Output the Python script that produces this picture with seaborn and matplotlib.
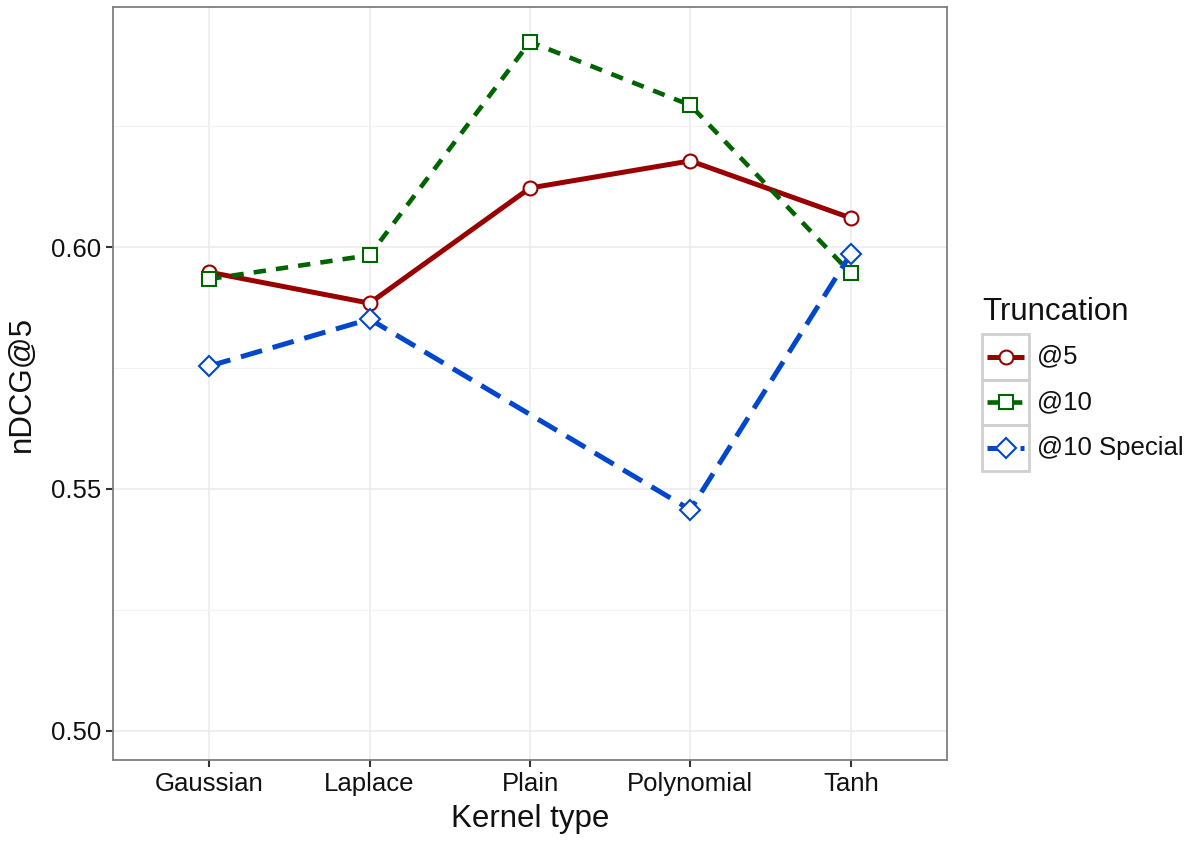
import matplotlib
matplotlib.use("Agg")
import matplotlib.pyplot as plt
import seaborn as sns
import pandas as pd
from matplotlib.patches import Rectangle
from matplotlib.lines import Line2D

kernels = ["Gaussian", "Laplace", "Plain", "Polynomial", "Tanh"]
series_names = ["@5", "@10", "@10 Special"]
vals_at5 = [0.5948, 0.5884, 0.6122, 0.6178, 0.6060]
vals_at10 = [0.5934, 0.5983, 0.6424, 0.6293, 0.5946]
vals_special = [0.5754, 0.5851, None, 0.5457, 0.5986]  # no value for Plain
y_ticks = [0.50, 0.55, 0.60]
y_minor = [0.525, 0.575, 0.625]

colors = {"@5": "#990000", "@10": "#006400", "@10 Special": "#0047CC"}
markers = {"@5": "o", "@10": "s", "@10 Special": "D"}
dashes = {"@5": "", "@10": (2.7, 2.2), "@10 Special": (4.4, 2.2)}
widths = {"@5": 3.6, "@10": 3.3, "@10 Special": 3.6}
msizes = {"@5": 10, "@10": 9.5, "@10 Special": 10.5}

rows = []
for name, vals in zip(series_names, [vals_at5, vals_at10, vals_special]):
    for k, v in zip(kernels, vals):
        if v is not None:
            rows.append({"Kernel type": k, "nDCG@5": v, "Truncation": name})
df = pd.DataFrame(rows)

sns.set_style("white")
plt.rcParams["font.family"] = ["Liberation Sans", "DejaVu Sans"]

W, H = 1191, 841
fig = plt.figure(figsize=(W / 100, H / 100), dpi=100)
ax = fig.add_axes([113 / W, 1 - 760 / H, (947 - 113) / W, (760 - 7) / H])

sns.lineplot(data=df, x="Kernel type", y="nDCG@5", hue="Truncation", style="Truncation",
             hue_order=series_names, style_order=series_names, palette=colors,
             markers=markers, dashes=dashes, sort=False, ax=ax, legend=False, zorder=3)

for line, name in zip(ax.lines, series_names):
    c = colors[name]
    line.set_linewidth(widths[name])
    line.set_markerfacecolor("white")
    line.set_markeredgecolor(c)
    line.set_markeredgewidth(1.5)
    line.set_markersize(msizes[name])
    line.set_dash_capstyle("butt")
    line.set_solid_capstyle("butt")

ax.set_xlim(-0.6, 4.6)
ax.set_ylim(0.494, 0.6496)
ax.set_yticks(y_ticks)
ax.set_yticklabels([f"{t:.2f}" for t in y_ticks])
ax.set_yticks(y_minor, minor=True)
ax.grid(True, which="major", color="#EBEBEB", lw=1.1, zorder=0)
ax.grid(True, which="minor", axis="y", color="#F2F2F2", lw=0.8, zorder=0)
ax.set_axisbelow(True)
for s in ax.spines.values():
    s.set_color("#7F7F7F")
    s.set_linewidth(1.3)
ax.tick_params(axis="both", which="major", length=5, width=1.5, color="#333333",
               labelsize=18.5, labelcolor="#111111", direction="out", left=True, bottom=True)
ax.tick_params(axis="both", which="minor", length=0)
ax.set_xlabel("Kernel type", fontsize=22.5, labelpad=6, color="#111111")
ax.set_ylabel("nDCG@5", fontsize=22.5, labelpad=10, color="#111111")

# ggplot-style legend built in figure pixel space
def fx(px):
    return px / W

def fy(py):
    return 1 - py / H

fig.text(fx(982), fy(312), "Truncation", fontsize=22.5, ha="left", va="center", color="#111111")
key_x0, key_w, key_h = 982, 47, 45.5
key_y0 = 334
for i, name in enumerate(series_names):
    top = key_y0 + i * key_h
    cy = top + key_h / 2
    fig.add_artist(Rectangle((fx(key_x0), fy(top + key_h)), key_w / W, key_h / H,
                             transform=fig.transFigure, fill=False, edgecolor="#D0D0D0",
                             lw=2, zorder=1))
    c = colors[name]
    ls = "-" if dashes[name] == "" else (0, dashes[name])
    seg = Line2D([fx(key_x0 + 5), fx(key_x0 + key_w - 5)], [fy(cy), fy(cy)],
                 transform=fig.transFigure, color=c, lw=widths[name], linestyle=ls,
                 solid_capstyle="butt", dash_capstyle="butt", zorder=2)
    fig.add_artist(seg)
    mk = Line2D([fx(key_x0 + key_w / 2)], [fy(cy)], transform=fig.transFigure,
                marker=markers[name], markersize=msizes[name], markerfacecolor="white",
                markeredgecolor=c, markeredgewidth=1.5, linestyle="none", zorder=3)
    fig.add_artist(mk)
    fig.text(fx(1037), fy(cy), name, fontsize=18.5, ha="left", va="center", color="#111111")

fig.savefig("out.png", dpi=100)
